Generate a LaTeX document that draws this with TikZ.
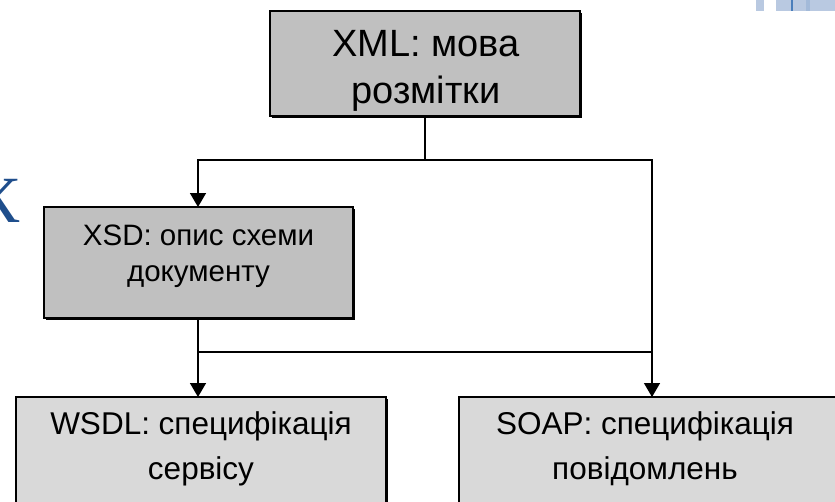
\documentclass[tikz,border=0pt]{standalone}
\usepackage{fontspec}
\setmainfont{Liberation Sans}
\newfontfamily\serifcyr{Liberation Serif}
\usetikzlibrary{arrows.meta}
\definecolor{boxdark}{HTML}{C0C0C0}
\definecolor{boxlight}{HTML}{D9D9D9}
\definecolor{decoblue}{HTML}{B9C9E1}
\definecolor{decomid}{HTML}{A3BAD9}
\definecolor{decodark}{HTML}{4A7EBB}
\definecolor{titleblue}{HTML}{1F4E8C}
\tikzset{
  box/.style={draw=black, line width=1.3pt},
  shadowbox/.style={fill=black},
  conn/.style={draw=black, line width=1.5pt},
  arr/.style={conn, -{Triangle[width=16pt,length=14pt]}},
  txt/.style={align=center, inner sep=0pt, text=black},
}
\begin{document}
\begin{tikzpicture}[x=1pt,y=-1pt]
\useasboundingbox (0,0) rectangle (835,501);
\clip (0,0) rectangle (835,501);
% decorative slide elements
\fill[decoblue] (756,0) rectangle (764,11);
\fill[decoblue] (776,0) rectangle (791,11);
\fill[decodark] (791,0) rectangle (793,11);
\fill[decoblue] (793,0) rectangle (806,11);
\fill[decomid] (806,0) rectangle (810,11);
\fill[decoblue] (810,0) rectangle (835,11);
\node[anchor=base, text=titleblue, inner sep=0pt] (ttl) at (-2,222) {\fontsize{66}{70}\selectfont\serifcyr К};
% shadows
\fill[shadowbox] (272,13) rectangle (582,118);
\fill[shadowbox] (46,209) rectangle (355,320);
\fill[shadowbox] (18,399) rectangle (388,530);
\fill[shadowbox] (461,399) rectangle (850,530);
% boxes
\draw[box, fill=boxdark] (270,11) rectangle (580,116);
\draw[box, fill=boxdark] (44,207) rectangle (353,318);
\draw[box, fill=boxlight] (16,397) rectangle (386,530);
\draw[box, fill=boxlight] (459,397) rectangle (850,530);
\node[txt, font=\fontsize{38}{47}\selectfont] (xml) at (426,71) {XML: мова\\розмітки};
\node[txt, font=\fontsize{29.5}{36}\selectfont] (xsd) at (198.5,256) {XSD: опис схеми\\документу};
\node[txt, font=\fontsize{31.5}{45}\selectfont] (wsdl) at (201,449) {WSDL: специфікація\\сервісу};
\node[txt, font=\fontsize{31.5}{45}\selectfont] (soap) at (645,449) {SOAP: специфікація\\повідомлень};
% connector anchors
\coordinate (xmlb) at (425,116);
\coordinate (j1) at (425,160);
\coordinate (xsdt) at (198,207);
\coordinate (xsdb) at (198,318);
\coordinate (j2) at (198,352);
\coordinate (wsdlt) at (198,397);
\coordinate (soapt) at (652,397);
\draw[conn] (xmlb) -- (j1);
\draw[arr] (j1) -| (xsdt);
\draw[arr] (j1) -| (soapt);
\draw[arr] (xsdb) -- (wsdlt);
\draw[conn] (j2) -| (soapt);
\end{tikzpicture}
\end{document}
